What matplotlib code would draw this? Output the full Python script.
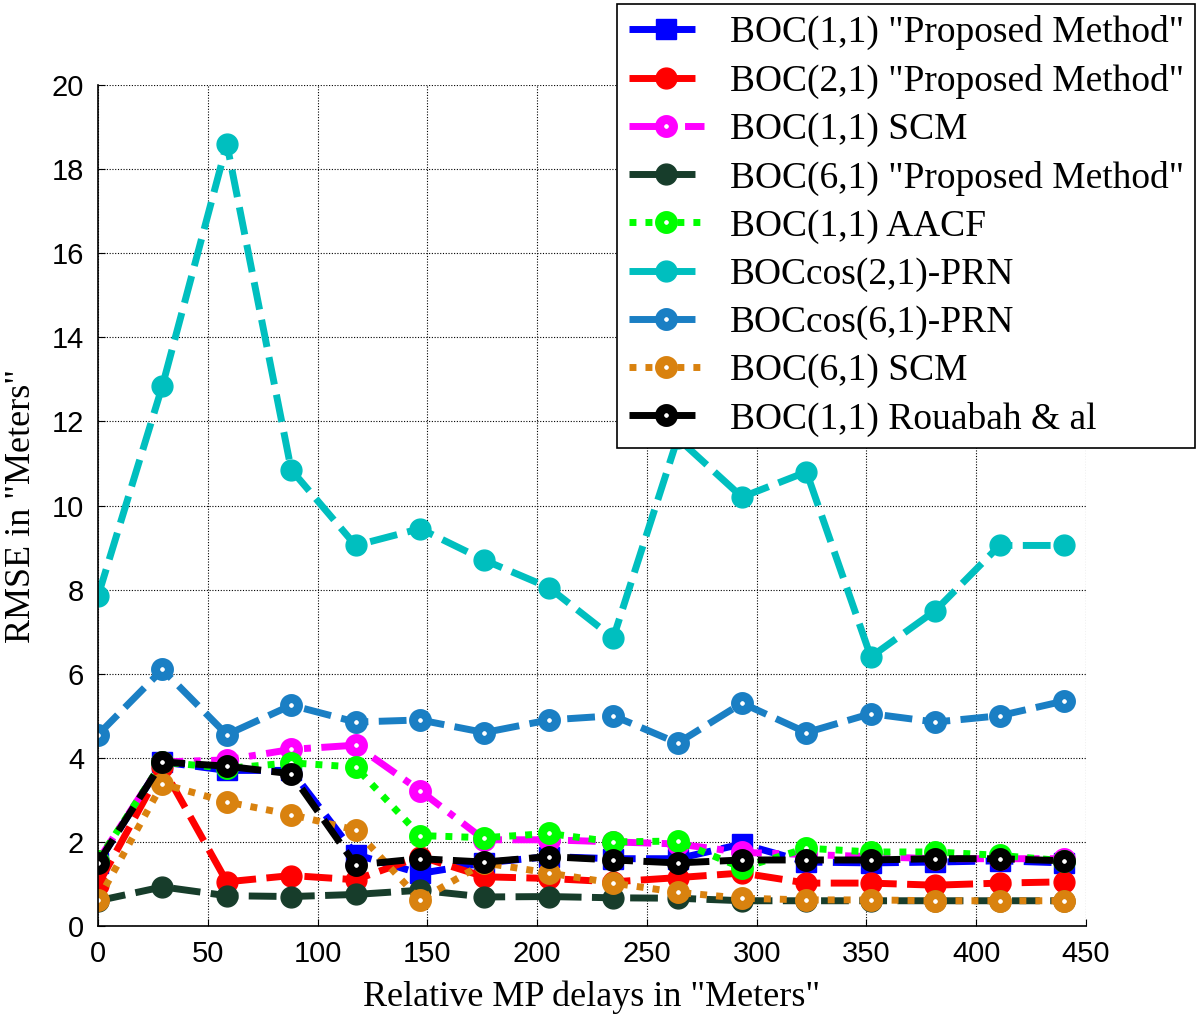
from matplotlib import pyplot as plt
import numpy as np

delays = np.linspace(0, 440, 16)

boc11_proposed = [1.5, 3.9, 3.7, 3.7, 1.7, 1.25, 1.5, 1.65, 1.6, 1.6, 1.95, 1.52, 1.5, 1.52, 1.55, 1.5]
boc21_proposed = [0.98, 3.78, 1.05, 1.2, 1.1, 1.65, 1.17, 1.13, 1.05, 1.15, 1.26, 1.02, 1.02, 0.97, 1.02, 1.05]
boc11_scm = [1.55, 3.9, 3.95, 4.2, 4.3, 3.22, 2.05, 2.05, 2.0, 1.95, 1.75, 1.7, 1.65, 1.6, 1.6, 1.6]
boc61_proposed = [0.6, 0.93, 0.72, 0.7, 0.75, 0.85, 0.69, 0.7, 0.67, 0.66, 0.6, 0.6, 0.6, 0.6, 0.6, 0.6]
boc11_aacf = [1.55, 3.9, 3.75, 3.88, 3.78, 2.15, 2.1, 2.2, 2.0, 2.02, 1.38, 1.85, 1.76, 1.76, 1.68, 1.55]
boccos21_prn = [7.85, 12.85, 18.6, 10.85, 9.05, 9.45, 8.7, 8.05, 6.85, 11.6, 10.2, 10.8, 6.4, 7.5, 9.05, 9.05]
boccos61_prn = [4.55, 6.1, 4.55, 5.25, 4.85, 4.9, 4.6, 4.9, 5.0, 4.35, 5.3, 4.6, 5.05, 4.85, 5.0, 5.35]
boc61_scm = [0.62, 3.38, 2.95, 2.65, 2.28, 0.62, 1.5, 1.26, 1.02, 0.8, 0.66, 0.62, 0.62, 0.6, 0.6, 0.6]
boc11_rouabah = [1.5, 3.9, 3.8, 3.62, 1.45, 1.6, 1.52, 1.65, 1.57, 1.5, 1.57, 1.57, 1.57, 1.6, 1.6, 1.55]

dash = (0, (4, 1.5))
dot = (0, (1, 1.3))
dashdot = (0, (4, 1.5, 1, 1.5))

series = [
  ('BOC(1,1) "Proposed Method"', boc11_proposed, '#0000ff', dash, 's', True),
  ('BOC(2,1) "Proposed Method"', boc21_proposed, '#ff0000', dash, 'o', True),
  ('BOC(1,1) SCM', boc11_scm, '#ff00ff', dashdot, 'o', False),
  ('BOC(6,1) "Proposed Method"', boc61_proposed, '#173d2b', dash, 'o', True),
  ('BOC(1,1) AACF', boc11_aacf, '#00ff00', dot, 'o', False),
  ('BOCcos(2,1)-PRN', boccos21_prn, '#00bfbf', dash, 'o', True),
  ('BOCcos(6,1)-PRN', boccos61_prn, '#1a7fc4', dash, 'o', False),
  ('BOC(6,1) SCM', boc61_scm, '#d9820f', dot, 'o', False),
  ('BOC(1,1) Rouabah & al', boc11_rouabah, '#000000', dash, 'o', False),
]

fig = plt.figure(figsize=(12, 10.16), dpi=100)
ax = fig.add_axes([0.0817, 0.0886, 0.8233, 0.8277])

for label, values, color, ls, marker, filled in series:
  if filled:
    ax.plot(delays, values, color=color, linestyle=ls, linewidth=5,
            marker=marker, markersize=15, markerfacecolor=color,
            markeredgecolor=color, markeredgewidth=1, label=label)
  else:
    ax.plot(delays, values, color=color, linestyle=ls, linewidth=5,
            marker=marker, markersize=10, markerfacecolor='white',
            markeredgecolor=color, markeredgewidth=6.5, label=label)

ax.set_xlim(0, 450)
ax.set_ylim(0, 20)
ax.set_xticks(np.arange(0, 451, 50))
ax.set_yticks(np.arange(0, 21, 2))
ax.grid(True, color='black', linestyle=(0, (1, 1.5)), linewidth=0.8)
ax.tick_params(direction='in', labelsize=21, length=5, pad=10)
for lbl in ax.get_xticklabels() + ax.get_yticklabels():
  lbl.set_family(['Liberation Sans', 'DejaVu Sans'])
ax.spines['top'].set_visible(False)
ax.spines['right'].set_visible(False)
ax.spines['left'].set_linewidth(1.2)
ax.spines['bottom'].set_linewidth(1.2)

ax.set_xlabel('Relative MP delays in "Meters"', fontsize=26, family='Liberation Serif', labelpad=9)
ax.set_ylabel('RMSE in "Meters"', fontsize=26, family='Liberation Serif', labelpad=10)

leg = fig.legend(loc='upper right', bbox_to_anchor=(0.999, 1.0), frameon=True, fancybox=False,
                 edgecolor='black', framealpha=1, prop={'family': 'Liberation Serif', 'size': 27},
                 handlelength=2.0, labelspacing=0.36, borderpad=0.3, handletextpad=0.7,
                 borderaxespad=0.1)
leg.get_frame().set_linewidth(1.2)

fig.savefig('out.png', dpi=100)
